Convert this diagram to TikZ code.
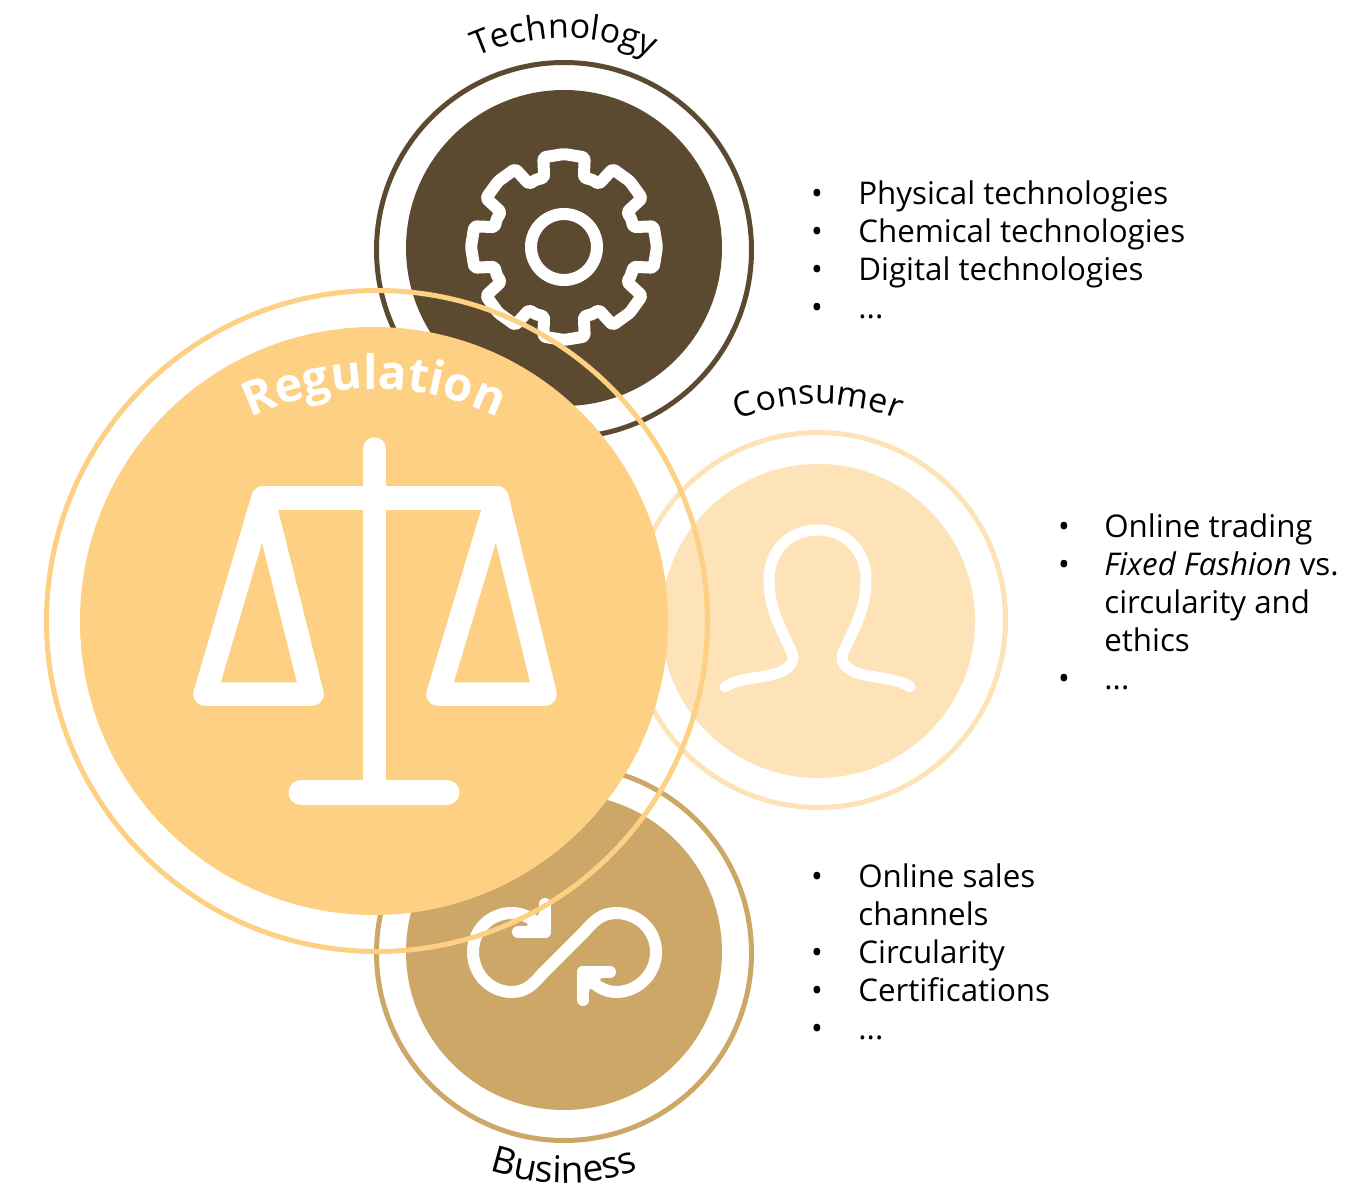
\documentclass[tikz,border=0pt]{standalone}
\usepackage{fontspec}
\setmainfont{Open Sans}
\usetikzlibrary{decorations.text}
\definecolor{techc}{HTML}{5B4A30}
\definecolor{consc}{HTML}{FDE3B7}
\definecolor{regc}{HTML}{FDD083}
\definecolor{busc}{HTML}{CCA768}
\newcommand{\bodyfs}{\fontsize{17.8}{21.6}\selectfont}
\newcommand{\capfs}{\fontsize{19.3}{24}\selectfont}
\newcommand{\busfs}{\fontsize{21}{24}\selectfont}
\newcommand{\regfs}{\fontsize{27}{30}\selectfont\bfseries}
\tikzset{
  x=0.02cm,y=-0.02cm,
  ring/.style={draw=#1,line width=0.1cm},
  disc/.style={fill=#1},
  icon/.style={draw=white,line width=0.24cm,line cap=round,line join=round},
  thinicon/.style={draw=white,line width=0.22cm,line cap=round,line join=round},
  bigicon/.style={draw=white,line width=0.47cm,line cap=round,line join=round},
  item/.style={anchor=base west,inner sep=0pt,font=\bodyfs,text=black},
  dot/.style={anchor=base,inner sep=0pt,font=\bodyfs,text=black},
}
\begin{document}
\begin{tikzpicture}
\useasboundingbox (0,0) rectangle (1365,1185);
% technology
\draw[ring=techc] (564,250) circle[radius=187.5];
\fill[disc=techc] (564,248) circle[radius=158];
\begin{scope}[shift={(564,247)}]
\draw[icon,rounded corners=1.5pt] (22.5:73)
  \foreach \a in {45,90,...,360}{ -- (\a-16:72) -- (\a-13:92) -- (\a:93) -- (\a+13:92) -- (\a+16:72) -- (\a+22.5:73) } -- cycle;
\draw[icon] (0,0) circle[radius=33];
\end{scope}
% consumer
\draw[ring=consc] (818,620) circle[radius=187.5];
\fill[disc=consc] (818,621) circle[radius=157];
\draw[thinicon] (725,687) .. controls (737,678) and (763,678) .. (778,673)
  .. controls (790,668) and (795,662) .. (792,653)
  .. controls (782,630) and (769,610) .. (769,580)
  .. controls (769,550) and (790,530) .. (817.5,530)
  .. controls (845,530) and (866,550) .. (866,580)
  .. controls (866,610) and (853,630) .. (843,653)
  .. controls (840,662) and (845,668) .. (857,673)
  .. controls (872,678) and (898,678) .. (910,687);
% business
\draw[ring=busc] (564,953) circle[radius=187.5];
\fill[disc=busc] (564,952) circle[radius=158];
\draw[icon] (545,932) .. controls (535,920) and (525,913) .. (512,913)
  .. controls (490,913) and (473,930) .. (473,952)
  .. controls (473,974) and (490,992) .. (512,992)
  .. controls (527,992) and (535,982) .. (543,973)
  -- (585,931) .. controls (593,922) and (601,913) .. (616,913)
  .. controls (638,913) and (656,930) .. (656,952)
  .. controls (656,974) and (638,992) .. (616,992)
  .. controls (603,992) and (593,984) .. (583,972);
\draw[icon] (518,932) -- (545,932) -- (545,904);
\draw[icon] (610,972) -- (583,972) -- (583,1000);
\fill[white] (545,932) -- (520,932) -- (545,908) -- cycle;
\fill[white] (583,972) -- (608,972) -- (583,996) -- cycle;
% regulation
\fill[disc=regc] (374,621) circle[radius=294];
\draw[bigicon] (263,498) -- (497,498);
\draw[bigicon] (374.5,449) -- (374.5,792);
\draw[bigicon,line width=0.5cm] (301,792.5) -- (447,792.5);
\draw[bigicon] (263,498) -- (205,694) -- (312,694) -- cycle;
\draw[bigicon] (497,498) -- (438,694) -- (545,694) -- cycle;
\draw[ring=regc] (377,621) circle[radius=330.5];
% curved captions
\path[decorate,decoration={text along path,text align=center,text={|\capfs|Technology}}]
  plot[domain=-120:-60,samples=40] ({564+210*cos(\x)},{248+210*sin(\x)});
\path[decorate,decoration={text along path,text align=center,text={|\capfs|Consumer}}]
  plot[domain=-120:-60,samples=40] ({818+217*cos(\x)},{621+217*sin(\x)});
\path[decorate,decoration={text along path,text align=center,text={|\busfs|Business}}]
  plot[domain=120:60,samples=40] ({564+231*cos(\x)},{952+231*sin(\x)});
\path[decorate,decoration={text along path,text align=center,text color=white,text={|\regfs|Regulation}}]
  plot[domain=-130:-50,samples=40] ({374+280*cos(\x)},{669+280*sin(\x)});
% bullet lists
\node[dot] (b11) at (817,204.5) {•}; \node[item] (t11) at (858,204.5) {Physical technologies};
\node[dot] (b12) at (817,242.5) {•}; \node[item] (t12) at (858,242.5) {Chemical technologies};
\node[dot] (b13) at (817,280.5) {•}; \node[item] (t13) at (858,280.5) {Digital technologies};
\node[dot] (b14) at (817,318.5) {•}; \node[item] (t14) at (858,318.5) {...};
\node[dot] (b21) at (1064,537.5) {•}; \node[item] (t21) at (1104,537.5) {Online trading};
\node[dot] (b22) at (1064,575.5) {•}; \node[item] (t22) at (1104,575.5) {\textit{Fixed Fashion} vs.};
\node[item] (t23) at (1104,613.5) {circularity and};
\node[item] (t24) at (1104,651.5) {ethics};
\node[dot] (b25) at (1064,689.5) {•}; \node[item] (t25) at (1104,689.5) {...};
\node[dot] (b31) at (817,887.5) {•}; \node[item] (t31) at (858,887.5) {Online sales};
\node[item] (t32) at (858,925.5) {channels};
\node[dot] (b33) at (817,963.5) {•}; \node[item] (t33) at (858,963.5) {Circularity};
\node[dot] (b34) at (817,1001.5) {•}; \node[item] (t34) at (858,1001.5) {Certifications};
\node[dot] (b35) at (817,1039.5) {•}; \node[item] (t35) at (858,1039.5) {...};
\end{tikzpicture}
\end{document}
